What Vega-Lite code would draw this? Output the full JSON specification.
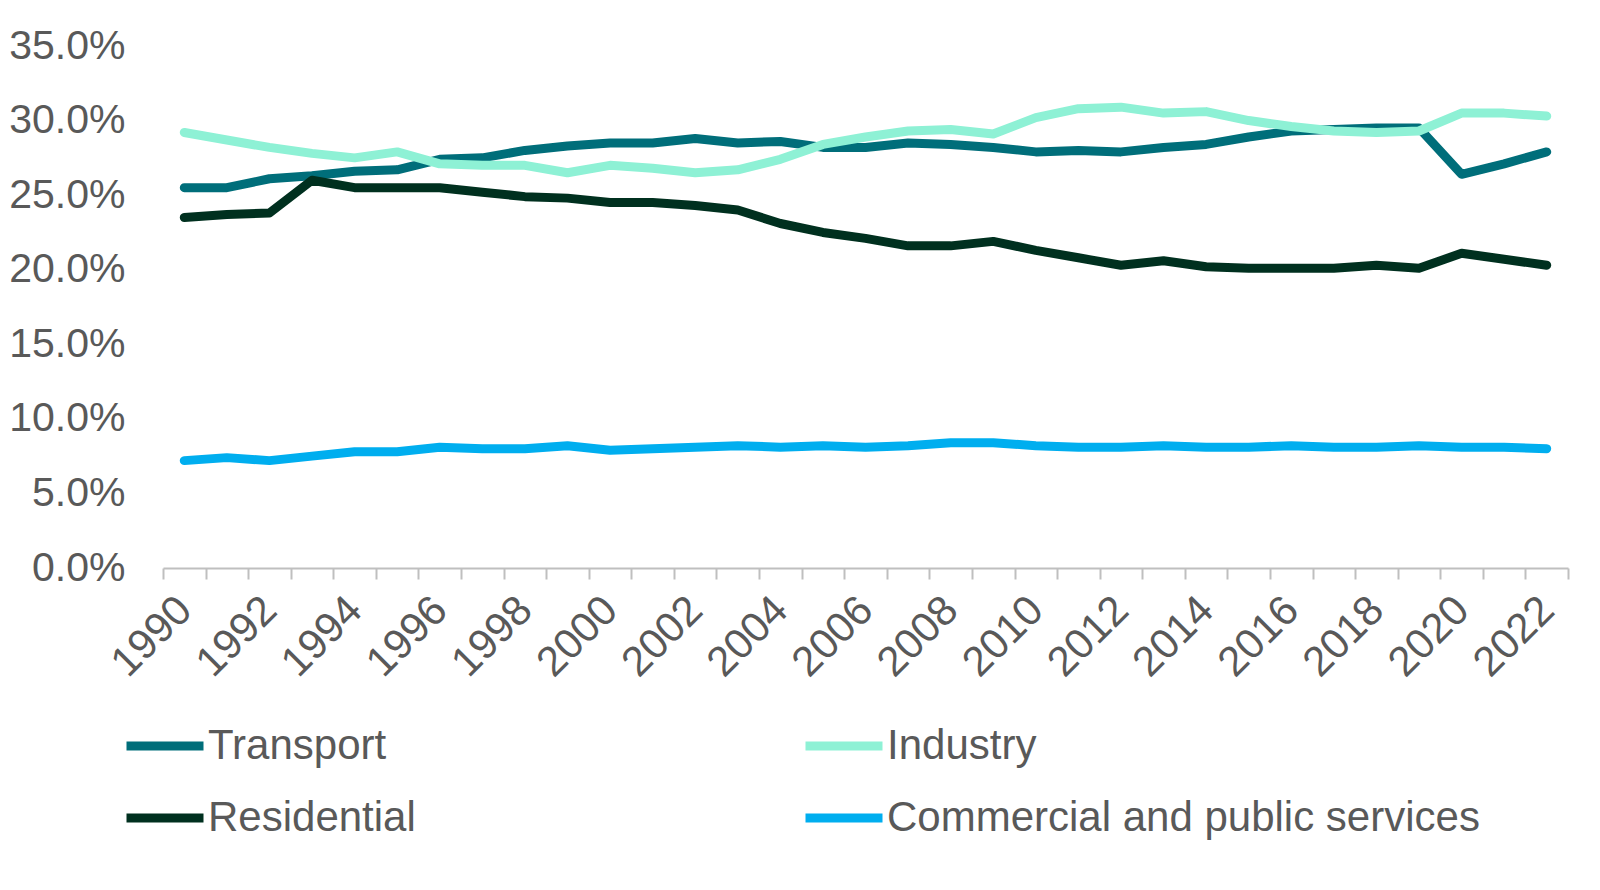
{
  "$schema": "https://vega.github.io/schema/vega-lite/v6.json",
  "autosize": "none",
  "padding": {"left": 163, "top": 46, "right": 32, "bottom": 322},
  "width": 1405,
  "height": 522,
  "background": "white",
  "config": {
    "view": {"stroke": null},
    "font": "Liberation Sans",
    "axis": {"labelFont": "Liberation Sans", "labelColor": "#595959"},
    "legend": {"labelFont": "Liberation Sans", "labelColor": "#595959"}
  },
  "data": {
    "values": [
      {"year": 1990, "sector": "Transport", "share": 0.255},
      {"year": 1991, "sector": "Transport", "share": 0.255},
      {"year": 1992, "sector": "Transport", "share": 0.261},
      {"year": 1993, "sector": "Transport", "share": 0.263},
      {"year": 1994, "sector": "Transport", "share": 0.266},
      {"year": 1995, "sector": "Transport", "share": 0.267},
      {"year": 1996, "sector": "Transport", "share": 0.274},
      {"year": 1997, "sector": "Transport", "share": 0.275},
      {"year": 1998, "sector": "Transport", "share": 0.280},
      {"year": 1999, "sector": "Transport", "share": 0.283},
      {"year": 2000, "sector": "Transport", "share": 0.285},
      {"year": 2001, "sector": "Transport", "share": 0.285},
      {"year": 2002, "sector": "Transport", "share": 0.288},
      {"year": 2003, "sector": "Transport", "share": 0.285},
      {"year": 2004, "sector": "Transport", "share": 0.286},
      {"year": 2005, "sector": "Transport", "share": 0.282},
      {"year": 2006, "sector": "Transport", "share": 0.282},
      {"year": 2007, "sector": "Transport", "share": 0.285},
      {"year": 2008, "sector": "Transport", "share": 0.284},
      {"year": 2009, "sector": "Transport", "share": 0.282},
      {"year": 2010, "sector": "Transport", "share": 0.279},
      {"year": 2011, "sector": "Transport", "share": 0.280},
      {"year": 2012, "sector": "Transport", "share": 0.279},
      {"year": 2013, "sector": "Transport", "share": 0.282},
      {"year": 2014, "sector": "Transport", "share": 0.284},
      {"year": 2015, "sector": "Transport", "share": 0.289},
      {"year": 2016, "sector": "Transport", "share": 0.293},
      {"year": 2017, "sector": "Transport", "share": 0.294},
      {"year": 2018, "sector": "Transport", "share": 0.295},
      {"year": 2019, "sector": "Transport", "share": 0.295},
      {"year": 2020, "sector": "Transport", "share": 0.264},
      {"year": 2021, "sector": "Transport", "share": 0.271},
      {"year": 2022, "sector": "Transport", "share": 0.279},
      {"year": 1990, "sector": "Industry", "share": 0.292},
      {"year": 1991, "sector": "Industry", "share": 0.287},
      {"year": 1992, "sector": "Industry", "share": 0.282},
      {"year": 1993, "sector": "Industry", "share": 0.278},
      {"year": 1994, "sector": "Industry", "share": 0.275},
      {"year": 1995, "sector": "Industry", "share": 0.279},
      {"year": 1996, "sector": "Industry", "share": 0.271},
      {"year": 1997, "sector": "Industry", "share": 0.270},
      {"year": 1998, "sector": "Industry", "share": 0.270},
      {"year": 1999, "sector": "Industry", "share": 0.265},
      {"year": 2000, "sector": "Industry", "share": 0.270},
      {"year": 2001, "sector": "Industry", "share": 0.268},
      {"year": 2002, "sector": "Industry", "share": 0.265},
      {"year": 2003, "sector": "Industry", "share": 0.267},
      {"year": 2004, "sector": "Industry", "share": 0.274},
      {"year": 2005, "sector": "Industry", "share": 0.284},
      {"year": 2006, "sector": "Industry", "share": 0.289},
      {"year": 2007, "sector": "Industry", "share": 0.293},
      {"year": 2008, "sector": "Industry", "share": 0.294},
      {"year": 2009, "sector": "Industry", "share": 0.291},
      {"year": 2010, "sector": "Industry", "share": 0.302},
      {"year": 2011, "sector": "Industry", "share": 0.308},
      {"year": 2012, "sector": "Industry", "share": 0.309},
      {"year": 2013, "sector": "Industry", "share": 0.305},
      {"year": 2014, "sector": "Industry", "share": 0.306},
      {"year": 2015, "sector": "Industry", "share": 0.300},
      {"year": 2016, "sector": "Industry", "share": 0.296},
      {"year": 2017, "sector": "Industry", "share": 0.293},
      {"year": 2018, "sector": "Industry", "share": 0.292},
      {"year": 2019, "sector": "Industry", "share": 0.293},
      {"year": 2020, "sector": "Industry", "share": 0.305},
      {"year": 2021, "sector": "Industry", "share": 0.305},
      {"year": 2022, "sector": "Industry", "share": 0.303},
      {"year": 1990, "sector": "Residential", "share": 0.235},
      {"year": 1991, "sector": "Residential", "share": 0.237},
      {"year": 1992, "sector": "Residential", "share": 0.238},
      {"year": 1993, "sector": "Residential", "share": 0.260},
      {"year": 1994, "sector": "Residential", "share": 0.255},
      {"year": 1995, "sector": "Residential", "share": 0.255},
      {"year": 1996, "sector": "Residential", "share": 0.255},
      {"year": 1997, "sector": "Residential", "share": 0.252},
      {"year": 1998, "sector": "Residential", "share": 0.249},
      {"year": 1999, "sector": "Residential", "share": 0.248},
      {"year": 2000, "sector": "Residential", "share": 0.245},
      {"year": 2001, "sector": "Residential", "share": 0.245},
      {"year": 2002, "sector": "Residential", "share": 0.243},
      {"year": 2003, "sector": "Residential", "share": 0.240},
      {"year": 2004, "sector": "Residential", "share": 0.231},
      {"year": 2005, "sector": "Residential", "share": 0.225},
      {"year": 2006, "sector": "Residential", "share": 0.221},
      {"year": 2007, "sector": "Residential", "share": 0.216},
      {"year": 2008, "sector": "Residential", "share": 0.216},
      {"year": 2009, "sector": "Residential", "share": 0.219},
      {"year": 2010, "sector": "Residential", "share": 0.213},
      {"year": 2011, "sector": "Residential", "share": 0.208},
      {"year": 2012, "sector": "Residential", "share": 0.203},
      {"year": 2013, "sector": "Residential", "share": 0.206},
      {"year": 2014, "sector": "Residential", "share": 0.202},
      {"year": 2015, "sector": "Residential", "share": 0.201},
      {"year": 2016, "sector": "Residential", "share": 0.201},
      {"year": 2017, "sector": "Residential", "share": 0.201},
      {"year": 2018, "sector": "Residential", "share": 0.203},
      {"year": 2019, "sector": "Residential", "share": 0.201},
      {"year": 2020, "sector": "Residential", "share": 0.211},
      {"year": 2021, "sector": "Residential", "share": 0.207},
      {"year": 2022, "sector": "Residential", "share": 0.203},
      {"year": 1990, "sector": "Commercial and public services", "share": 0.072},
      {"year": 1991, "sector": "Commercial and public services", "share": 0.074},
      {"year": 1992, "sector": "Commercial and public services", "share": 0.072},
      {"year": 1993, "sector": "Commercial and public services", "share": 0.075},
      {"year": 1994, "sector": "Commercial and public services", "share": 0.078},
      {"year": 1995, "sector": "Commercial and public services", "share": 0.078},
      {"year": 1996, "sector": "Commercial and public services", "share": 0.081},
      {"year": 1997, "sector": "Commercial and public services", "share": 0.080},
      {"year": 1998, "sector": "Commercial and public services", "share": 0.080},
      {"year": 1999, "sector": "Commercial and public services", "share": 0.082},
      {"year": 2000, "sector": "Commercial and public services", "share": 0.079},
      {"year": 2001, "sector": "Commercial and public services", "share": 0.080},
      {"year": 2002, "sector": "Commercial and public services", "share": 0.081},
      {"year": 2003, "sector": "Commercial and public services", "share": 0.082},
      {"year": 2004, "sector": "Commercial and public services", "share": 0.081},
      {"year": 2005, "sector": "Commercial and public services", "share": 0.082},
      {"year": 2006, "sector": "Commercial and public services", "share": 0.081},
      {"year": 2007, "sector": "Commercial and public services", "share": 0.082},
      {"year": 2008, "sector": "Commercial and public services", "share": 0.084},
      {"year": 2009, "sector": "Commercial and public services", "share": 0.084},
      {"year": 2010, "sector": "Commercial and public services", "share": 0.082},
      {"year": 2011, "sector": "Commercial and public services", "share": 0.081},
      {"year": 2012, "sector": "Commercial and public services", "share": 0.081},
      {"year": 2013, "sector": "Commercial and public services", "share": 0.082},
      {"year": 2014, "sector": "Commercial and public services", "share": 0.081},
      {"year": 2015, "sector": "Commercial and public services", "share": 0.081},
      {"year": 2016, "sector": "Commercial and public services", "share": 0.082},
      {"year": 2017, "sector": "Commercial and public services", "share": 0.081},
      {"year": 2018, "sector": "Commercial and public services", "share": 0.081},
      {"year": 2019, "sector": "Commercial and public services", "share": 0.082},
      {"year": 2020, "sector": "Commercial and public services", "share": 0.081},
      {"year": 2021, "sector": "Commercial and public services", "share": 0.081},
      {"year": 2022, "sector": "Commercial and public services", "share": 0.080}
    ]
  },
  "mark": {"type": "line", "strokeWidth": 9, "strokeCap": "round", "strokeJoin": "round"},
  "encoding": {
    "x": {
      "field": "year",
      "type": "ordinal",
      "bandPosition": 0.5,
      "scale": {"type": "band", "paddingInner": 0, "paddingOuter": 0},
      "axis": {
        "title": null,
        "labelExpr": "datum.value % 2 == 0 ? datum.label : ''",
        "labelAngle": -45,
        "labelAlign": "right",
        "labelBaseline": "middle",
        "labelFontSize": 42,
        "labelPadding": 24,
        "labelOverlap": false,
        "tickBand": "extent",
        "tickColor": "#bfbfbf",
        "tickWidth": 2,
        "tickSize": 11,
        "domainColor": "#bfbfbf",
        "domainWidth": 2,
        "grid": false
      }
    },
    "y": {
      "field": "share",
      "type": "quantitative",
      "scale": {"domain": [0, 0.35], "nice": false},
      "axis": {
        "title": null,
        "values": [0, 0.05, 0.1, 0.15, 0.2, 0.25, 0.3, 0.35],
        "format": ".1%",
        "labelFontSize": 41,
        "labelPadding": 38,
        "domain": false,
        "ticks": false,
        "grid": false
      }
    },
    "color": {
      "field": "sector",
      "type": "nominal",
      "scale": {
        "domain": ["Transport", "Industry", "Residential", "Commercial and public services"],
        "range": ["#006e7a", "#8ef1d5", "#00301f", "#00aeef"]
      },
      "legend": {
        "title": null,
        "orient": "none",
        "legendX": -41,
        "legendY": 657,
        "direction": "horizontal",
        "columns": 2,
        "columnPadding": 371,
        "rowPadding": 8,
        "padding": 0,
        "symbolType": "stroke",
        "symbolSize": 5929,
        "symbolStrokeWidth": 9,
        "labelFontSize": 42,
        "labelOffset": 0,
        "labelLimit": 800
      }
    }
  }
}
